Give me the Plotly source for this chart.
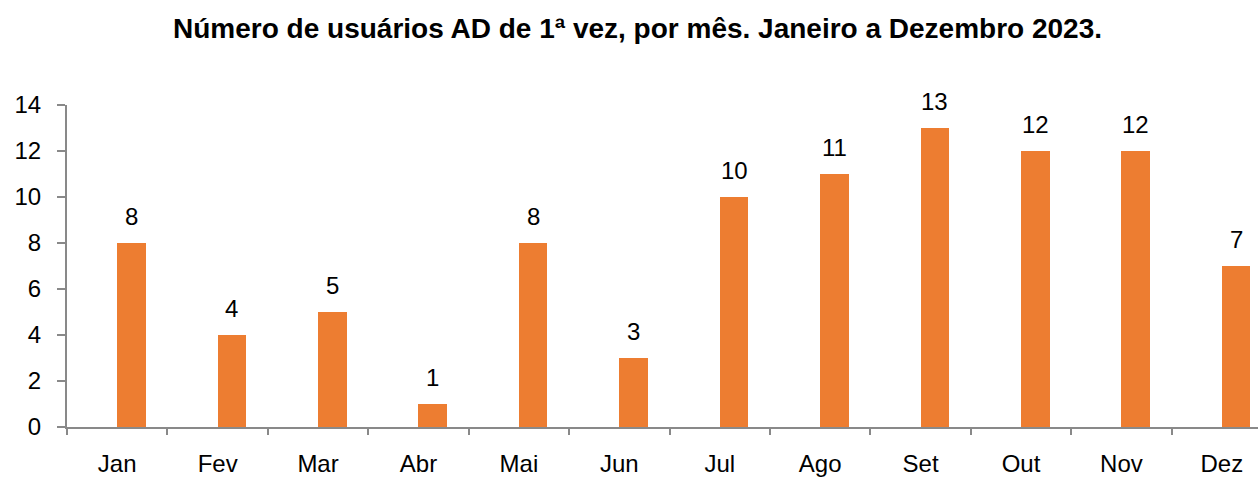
import plotly.graph_objects as go

months = ["Jan", "Fev", "Mar", "Abr", "Mai", "Jun", "Jul", "Ago", "Set", "Out", "Nov", "Dez"]
values = [8, 4, 5, 1, 8, 3, 10, 11, 13, 12, 12, 7]
title_text = "Número de usuários AD de 1ª vez, por mês. Janeiro a Dezembro 2023."
y_ticks = [0, 2, 4, 6, 8, 10, 12, 14]

FONT = "Liberation Sans, Arial, sans-serif"
AXIS_COLOR = "#898989"
BAR_COLOR = "#ED7D31"

fig = go.Figure()
fig.add_trace(go.Bar(
    x=months, y=values, width=0.284, offset=0.0,
    marker=dict(color=BAR_COLOR, line=dict(width=0)),
    text=[str(v) for v in values], textposition="none",
    hoverinfo="skip", showlegend=False,
))

for i, v in enumerate(values):
    fig.add_annotation(x=i + 0.142, y=v, text=str(v), showarrow=False,
                       yanchor="bottom", yshift=11,
                       font=dict(family=FONT, size=24, color="#000000"))

fig.update_layout(
    width=1258, height=478,
    margin=dict(l=67, r=0, t=105, b=51, autoexpand=False),
    paper_bgcolor="white", plot_bgcolor="white",
    title=dict(text="<b>" + title_text + "</b>", x=0.5068, xref="container", xanchor="center",
               y=0.9414, yref="container", yanchor="middle",
               font=dict(family=FONT, size=28, color="#000000")),
    xaxis=dict(type="category", range=[-0.5, 11.36], automargin=False,
               tickson="boundaries", ticks="outside", ticklen=6, tickwidth=2, tickcolor=AXIS_COLOR,
               ticklabelstandoff=14, ticklabeloverflow="allow",
               showgrid=False, zeroline=False, showline=True, linecolor=AXIS_COLOR, linewidth=2,
               tickfont=dict(family=FONT, size=24, color="#000000")),
    yaxis=dict(range=[0, 14], tickmode="array", tickvals=y_ticks, automargin=False,
               ticks="outside", ticklen=8, tickcolor=AXIS_COLOR, tickwidth=2,
               ticklabelstandoff=11,
               showgrid=False, zeroline=False, showline=True, linecolor=AXIS_COLOR, linewidth=2,
               tickfont=dict(family=FONT, size=24, color="#000000")),
    bargap=0,
)

fig.write_html("out.html", config={"displayModeBar": False},
               post_script="document.body.style.margin='0';document.body.style.overflow='hidden';")
